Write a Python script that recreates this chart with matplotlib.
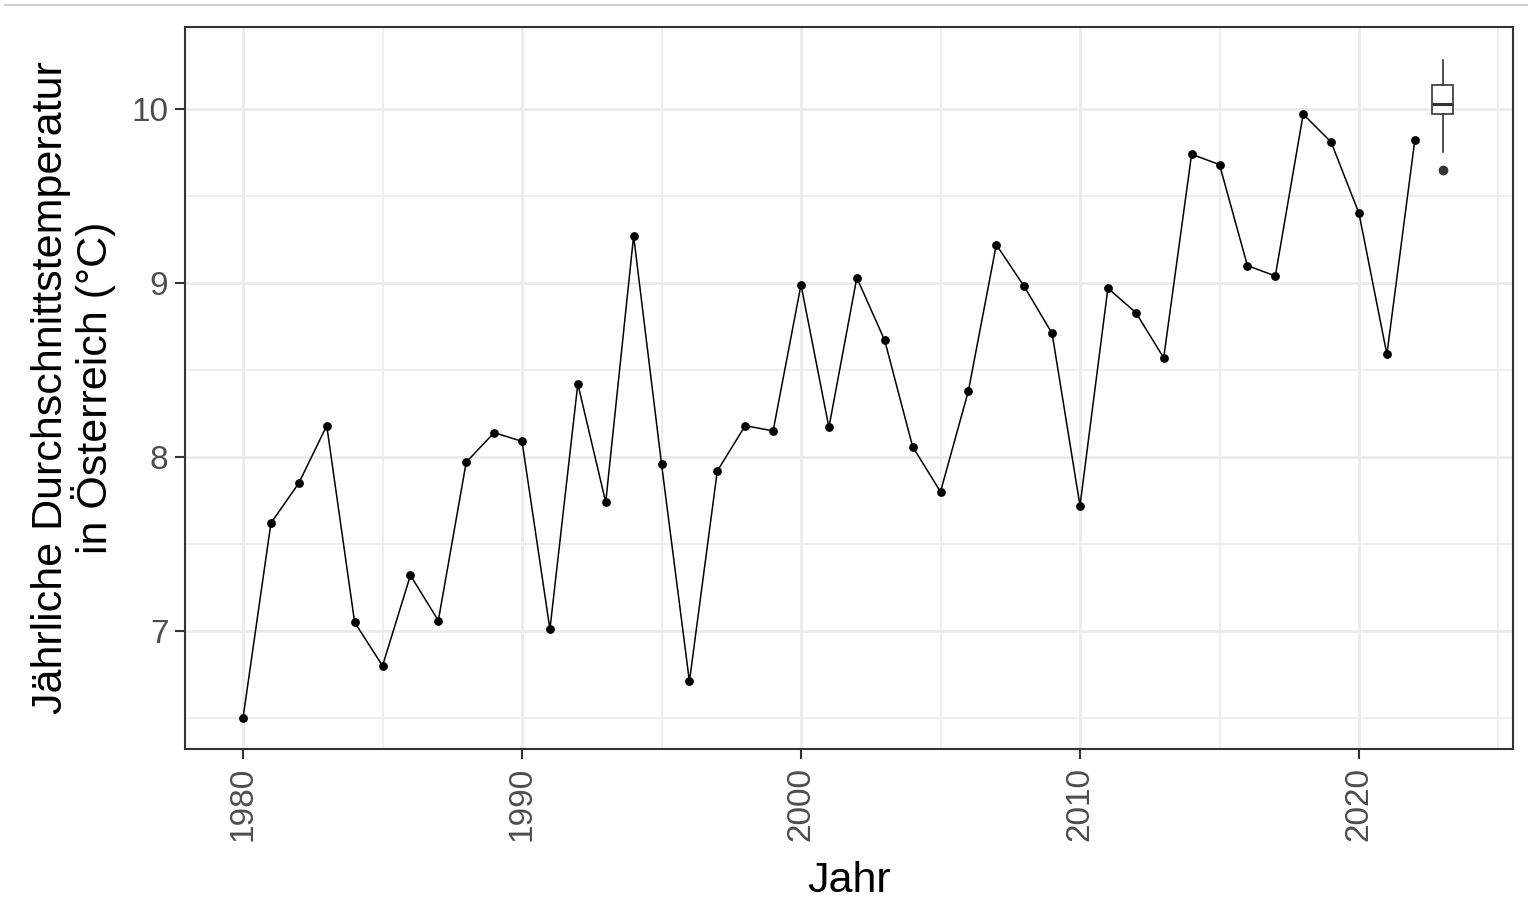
import matplotlib
matplotlib.use("Agg")
import matplotlib.pyplot as plt
from matplotlib.lines import Line2D
from matplotlib.ticker import MultipleLocator

years = list(range(1980, 2023))
temps = [6.50, 7.62, 7.85, 8.18, 7.05, 6.80, 7.32, 7.06, 7.97, 8.14,
         8.09, 7.01, 8.42, 7.74, 9.27, 7.96, 6.71, 7.92, 8.18, 8.15,
         8.99, 8.17, 9.03, 8.67, 8.06, 7.80, 8.38, 9.22, 8.98, 8.71,
         7.72, 8.97, 8.83, 8.57, 9.74, 9.68, 9.10, 9.04, 9.97, 9.81,
         9.40, 8.59, 9.82]

# boxplot summary of recent years (drawn at x = 2023)
box_x = 2023
box_stats = dict(whislo=9.75, q1=9.97, med=10.03, q3=10.14, whishi=10.28, fliers=[9.65])

plt.rcParams['font.family'] = ['Liberation Sans', 'DejaVu Sans']

fig = plt.figure(figsize=(15.28, 9.07), dpi=100)
ax = fig.add_axes([185/1528, 1-749/907, (1513-185)/1528, (749-27)/907])

grid_c = '#EBEBEB'
ax.set_xlim(1977.92, 2025.52)
ax.set_ylim(6.322, 10.471)
ax.xaxis.set_major_locator(MultipleLocator(10))
ax.xaxis.set_minor_locator(MultipleLocator(5))
ax.yaxis.set_major_locator(MultipleLocator(1))
ax.yaxis.set_minor_locator(MultipleLocator(0.5))
ax.grid(True, which='major', color=grid_c, linewidth=2.0, zorder=0)
ax.grid(True, which='minor', color=grid_c, linewidth=1.2, zorder=0)
ax.set_axisbelow(True)

ax.plot(years, temps, color='black', linewidth=1.1, zorder=3)
ax.scatter(years, temps, color='black', s=40, zorder=4, linewidths=0)

bp = ax.bxp([box_stats], positions=[box_x], widths=0.75, patch_artist=True,
            showfliers=True, manage_ticks=False,
            boxprops=dict(facecolor='white', edgecolor='#333333', linewidth=1.2),
            medianprops=dict(color='#333333', linewidth=2.2),
            whiskerprops=dict(color='#333333', linewidth=1.2),
            capprops=dict(linewidth=0),
            flierprops=dict(marker='o', markerfacecolor='#333333', markeredgecolor='#333333',
                            markersize=6, linestyle='none'))
for k in bp:
    for art in bp[k]:
        art.set_zorder(5)

for sp in ax.spines.values():
    sp.set_color('#333333')
    sp.set_linewidth(1.5)

ax.tick_params(which='major', length=7, width=1.5, color='#333333',
               labelsize=24, labelcolor='#4D4D4D')
ax.tick_params(which='minor', length=0)
ax.tick_params(axis='x', labelrotation=90, pad=6)
ax.tick_params(axis='y', pad=5)

ax.set_xlabel('Jahr', fontsize=31, color='black', labelpad=14)
ax.set_ylabel('Jährliche Durchschnittstemperatur\nin Österreich (°C)', fontsize=31,
              color='black', labelpad=11, linespacing=1.0)

fig.add_artist(Line2D([0.003, 1.0], [1-5/907, 1-5/907], color='#D0D0D0', linewidth=1.5,
                      transform=fig.transFigure))

fig.savefig('out.png', dpi=100)
